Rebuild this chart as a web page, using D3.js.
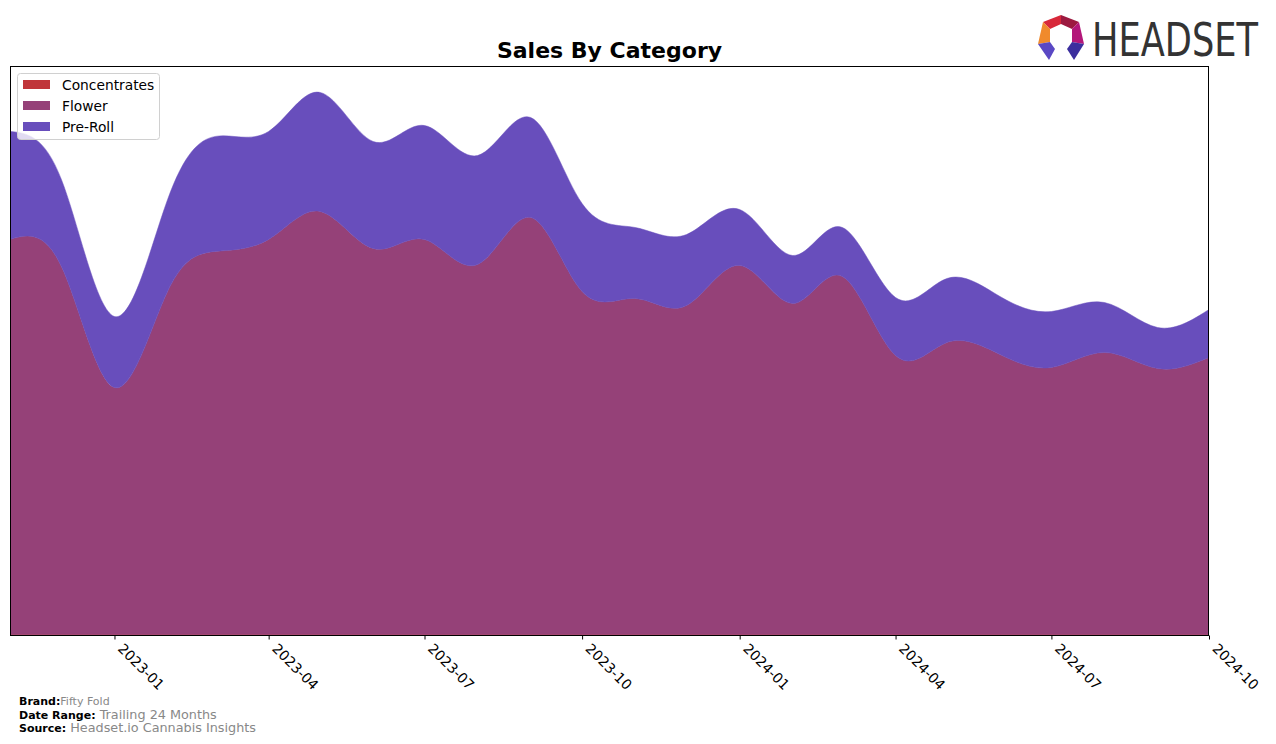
<!DOCTYPE html>
<html>
<head>
<meta charset="utf-8">
<script src="https://cdn.jsdelivr.net/npm/d3@7"></script>
<style>
  body { margin: 0; background: #fff; }
  text { font-family: "DejaVu Sans", sans-serif; }
</style>
</head>
<body>
<div id="chart"></div>
<script>
// monthly sales, trailing 24 months (arbitrary units)
const months = ["2022-11","2022-12","2023-01","2023-02","2023-03","2023-04","2023-05","2023-06",
  "2023-07","2023-08","2023-09","2023-10","2023-11","2023-12","2024-01","2024-02","2024-03",
  "2024-04","2024-05","2024-06","2024-07","2024-08","2024-09","2024-10"];
const concentrates = [0.6,0.6,0.5,0.5,0.6,0.6,0.6,0.5,0.5,0.5,0.5,0.5,0.5,0.5,0.5,0.5,0.5,0.5,0.5,0.5,0.5,0.5,0.5,0.5];
const flower = [395,368,247,343,383,395,423,386,395,370,417,343,336,329,369,331,358,279,292,280,267,282,266,277];
const preRoll = [108,87,71,92,115,108,119,107,114,109,100,88,71,71,56,48,49,58,64,58,56,50,41,48];
const tickLabels = ["2023-01","2023-04","2023-07","2023-10","2024-01","2024-04","2024-07","2024-10"];
const seriesNames = ["Concentrates", "Flower", "Pre-Roll"];
const colors = ["#c0353a", "#954178", "#684ebc"];

const width = 1276, height = 744;
const margin = { left: 10, right: 67, top: 66, bottom: 109 };
const parse = d3.timeParse("%Y-%m");

const rows = months.map((m, i) => ({
  date: parse(m),
  "Concentrates": concentrates[i],
  "Flower": flower[i],
  "Pre-Roll": preRoll[i]
}));

const stack = d3.stack().keys(seriesNames);
const layers = stack(rows);

const x = d3.scaleTime()
  .domain(d3.extent(rows, d => d.date))
  .range([margin.left, width - margin.right]);
const y = d3.scaleLinear()
  .domain([0, 569])
  .range([height - margin.bottom, margin.top]);

const svg = d3.select("#chart").append("svg")
  .attr("width", width)
  .attr("height", height);

const area = d3.area()
  .curve(d3.curveNatural)
  .x(d => x(d.data.date))
  .y0(d => y(d[0]))
  .y1(d => y(d[1]));

svg.append("defs").append("clipPath").attr("id", "plotclip")
  .append("rect")
  .attr("x", margin.left).attr("y", margin.top)
  .attr("width", width - margin.left - margin.right)
  .attr("height", height - margin.top - margin.bottom);

svg.append("g").attr("clip-path", "url(#plotclip)")
  .selectAll("path")
  .data(layers)
  .join("path")
  .attr("d", area)
  .attr("fill", (d, i) => colors[i])
  .attr("stroke", (d, i) => colors[i])
  .attr("stroke-width", 0.5);

// frame
svg.append("rect")
  .attr("x", margin.left + 0.5).attr("y", margin.top + 0.5)
  .attr("width", width - margin.left - margin.right - 1)
  .attr("height", height - margin.top - margin.bottom)
  .attr("fill", "none").attr("stroke", "#000").attr("stroke-width", 1);

// x axis
const xAxis = d3.axisBottom(x)
  .tickValues(tickLabels.map(parse))
  .tickFormat(d3.timeFormat("%Y-%m"))
  .tickSize(4)
  .tickSizeOuter(0);

const gx = svg.append("g")
  .attr("transform", `translate(0,${height - margin.bottom + 0.5})`)
  .call(xAxis);
gx.select(".domain").remove();
gx.selectAll(".tick line").attr("stroke", "#000");
gx.selectAll(".tick text")
  .attr("font-family", "DejaVu Sans, sans-serif")
  .attr("font-size", 14)
  .attr("fill", "#000")
  .attr("text-anchor", "start")
  .attr("dy", null)
  .attr("y", 0)
  .attr("transform", "translate(2,14) rotate(45)");

// title
svg.append("text")
  .attr("x", (margin.left + width - margin.right) / 2)
  .attr("y", 58)
  .attr("text-anchor", "middle")
  .attr("font-size", 22)
  .attr("font-weight", "bold")
  .text("Sales By Category");

// legend
const legend = svg.append("g");
legend.append("rect")
  .attr("x", 17.5).attr("y", 73.5)
  .attr("width", 142).attr("height", 66)
  .attr("rx", 3)
  .attr("fill", "#fff").attr("fill-opacity", 0.8)
  .attr("stroke", "#d0d0d0");
seriesNames.forEach((name, i) => {
  legend.append("rect")
    .attr("x", 23).attr("y", 80 + i * 21)
    .attr("width", 27).attr("height", 9)
    .attr("fill", colors[i]);
  legend.append("text")
    .attr("x", 62).attr("y", 90 + i * 21)
    .attr("font-size", 13.8)
    .text(name);
});

// footer
const footer = [["Brand:", "Fifty Fold"], ["Date Range:", "Trailing 24 Months"], ["Source:", "Headset.io Cannabis Insights"]];
footer.forEach((f, i) => {
  const t = svg.append("text")
    .attr("x", 19).attr("y", 705 + i * 13.5);
  t.append("tspan").attr("font-weight", "bold").attr("font-size", 11).text(f[0]);
  t.append("tspan").attr("fill", "#888").attr("font-size", i === 0 ? 11 : 12.8)
    .text((i === 0 ? "" : " ") + f[1]);
});

// headset logo
const logoPieces = [
  { pts: [[1043,22],[1061,15],[1061,24],[1050,29]], fill: "#d8283a" },
  { pts: [[1061,15],[1079,22],[1072,29],[1061,24]], fill: "#9c1a40" },
  { pts: [[1043,22],[1050,29],[1050,42],[1038,44]], fill: "#f08a2c" },
  { pts: [[1079,22],[1084,44],[1072,42],[1072,29]], fill: "#b3177a" },
  { pts: [[1038,44],[1050,42],[1055,49],[1049,60]], fill: "#5a48c4" },
  { pts: [[1072,42],[1084,44],[1074,60],[1067,49]], fill: "#3b2e9e" }
];
svg.append("g").selectAll("path")
  .data(logoPieces)
  .join("path")
  .attr("d", d => "M" + d.pts.map(p => p.join(",")).join("L") + "Z")
  .attr("fill", d => d.fill);
svg.append("text")
  .attr("x", 1092).attr("y", 56)
  .attr("font-family", "Liberation Sans Narrow, DejaVu Sans Condensed, sans-serif")
  .attr("font-size", 47)
  .attr("textLength", 166)
  .attr("lengthAdjust", "spacingAndGlyphs")
  .attr("fill", "#333")
  .text("HEADSET");
</script>
</body>
</html>
